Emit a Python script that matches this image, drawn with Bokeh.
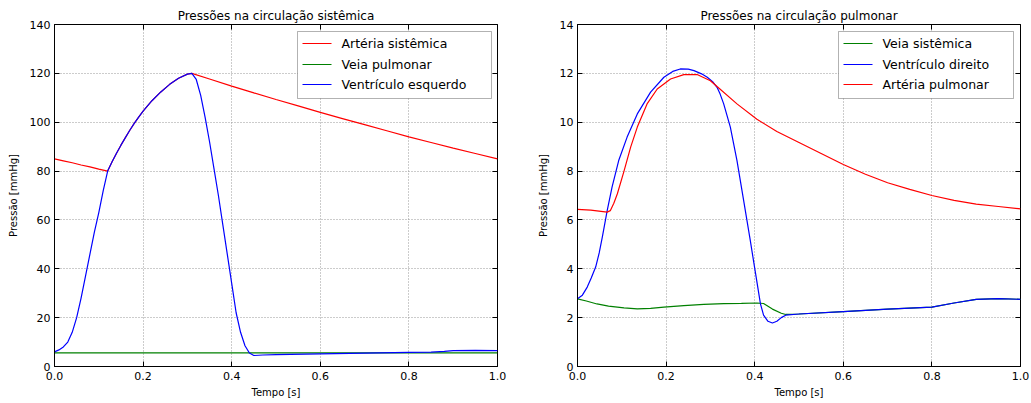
from bokeh.plotting import figure
from bokeh.layouts import row
from bokeh.models import (FixedTicker, PrintfTickFormatter, LinearAxis, CustomJSTickFormatter, Title,
                          BoxAnnotation, Arrow, Label)
from bokeh.embed import file_html
from bokeh.resources import INLINE

# ---------------- data ----------------
# Systemic circulation
t_art_sis = [0, 0.02, 0.04, 0.06, 0.08, 0.10, 0.12, 0.13, 0.14, 0.15, 0.16, 0.17, 0.18, 0.19,
             0.20, 0.22, 0.24, 0.26, 0.28, 0.30, 0.31, 0.35, 0.40, 0.45, 0.50, 0.55, 0.60,
             0.65, 0.70, 0.75, 0.80, 0.85, 0.90, 0.95, 1.0]
p_art_sis = [85, 84.2, 83.4, 82.5, 81.7, 80.8, 80.0, 83.8, 87.3, 90.6, 93.7, 96.7, 99.5, 102.1,
             104.5, 108.8, 112.4, 115.5, 118.0, 119.7, 120.0, 117.7, 114.8, 112, 109.3, 106.7, 104,
             101.5, 99, 96.5, 94, 91.7, 89.4, 87.2, 85]

t_veia_pul = [0, 0.2, 0.4, 0.6, 0.8, 1.0]
p_veia_pul = [5.6, 5.6, 5.6, 5.6, 5.6, 5.6]

t_vent_esq = [0, 0.01, 0.02, 0.03, 0.04, 0.05, 0.06, 0.07, 0.08, 0.09, 0.10, 0.11, 0.12, 0.13,
              0.14, 0.15, 0.16, 0.17, 0.18, 0.19, 0.20, 0.22, 0.24, 0.26, 0.28, 0.30, 0.31,
              0.32, 0.33, 0.34, 0.35, 0.36, 0.37, 0.38, 0.39, 0.40, 0.41, 0.42, 0.43, 0.44,
              0.45, 0.47, 0.50, 0.60, 0.70, 0.80, 0.85, 0.88, 0.90, 0.95, 1.0]
p_vent_esq = [6, 6.8, 8, 10, 14, 20, 28, 37, 46, 55, 63, 72, 80, 83.8,
              87.3, 90.6, 93.7, 96.7, 99.5, 102.1, 104.5, 108.8, 112.4, 115.5, 118.0, 119.7, 120.0,
              117.5, 111, 102, 92, 81, 70, 58, 46, 34, 22, 14, 8.5, 5.5,
              4.5, 4.7, 4.9, 5.2, 5.5, 5.8, 5.9, 6.2, 6.5, 6.6, 6.5]

# Pulmonary circulation
t_veia_sis = [0, 0.02, 0.044, 0.07, 0.105, 0.135, 0.165, 0.195, 0.24, 0.285, 0.33, 0.37, 0.405,
              0.42, 0.44, 0.46, 0.47, 0.50, 0.60, 0.70, 0.80, 0.85, 0.90, 0.95, 1.0]
p_veia_sis = [2.77, 2.68, 2.56, 2.47, 2.4, 2.36, 2.38, 2.43, 2.49, 2.54, 2.57, 2.58, 2.6,
              2.58, 2.35, 2.18, 2.13, 2.15, 2.25, 2.35, 2.43, 2.6, 2.75, 2.78, 2.75]

t_vent_dir = [0, 0.011, 0.022, 0.031, 0.041, 0.049, 0.056, 0.067, 0.078, 0.093, 0.112, 0.135,
              0.165, 0.195, 0.215, 0.232, 0.25, 0.263, 0.28, 0.293, 0.305, 0.315, 0.322, 0.33,
              0.345, 0.36, 0.375, 0.39, 0.402, 0.413, 0.42, 0.43, 0.44, 0.45, 0.46, 0.47,
              0.50, 0.60, 0.70, 0.80, 0.85, 0.90, 0.95, 1.0]
p_vent_dir = [2.77, 2.92, 3.25, 3.62, 4.07, 4.65, 5.3, 6.38, 7.34, 8.43, 9.39, 10.34,
              11.23, 11.84, 12.08, 12.18, 12.17, 12.11, 11.98, 11.84, 11.66, 11.43, 11.15, 10.75,
              9.8, 8.43, 6.8, 5.16, 3.8, 2.56, 2.1, 1.85, 1.78, 1.85, 2.0, 2.1,
              2.15, 2.25, 2.35, 2.43, 2.6, 2.75, 2.78, 2.75]

t_art_pul = [0, 0.03, 0.067, 0.074, 0.082, 0.09, 0.105, 0.12, 0.135, 0.157, 0.18, 0.21, 0.24,
             0.27, 0.30, 0.315, 0.36, 0.405, 0.45, 0.50, 0.55, 0.60, 0.65, 0.70, 0.75,
             0.80, 0.85, 0.90, 0.95, 1.0]
p_art_pul = [6.43, 6.4, 6.32, 6.38, 6.68, 7.07, 8.0, 8.98, 9.8, 10.75, 11.36, 11.77, 11.95,
             11.95, 11.7, 11.46, 10.75, 10.12, 9.62, 9.17, 8.72, 8.27, 7.87, 7.52, 7.25,
             7.0, 6.8, 6.65, 6.55, 6.45]

x_ticks = [0, 0.2, 0.4, 0.6, 0.8, 1.0]
y_ticks_sis = [0, 20, 40, 60, 80, 100, 120, 140]
y_ticks_pul = [0, 2, 4, 6, 8, 10, 12, 14]

FONT = "DejaVu Sans"
RED, GREEN, BLUE = "#ff0000", "#008000", "#0000ff"

# legend layout (screen px from the frame's bottom-left corner)
ROW_SY = [323, 302, 282]


def make_fig(title, ymax, yticks, series, width, bl, br, leg_left, leg_right):
    p = figure(width=width, height=403, x_range=(0, 1), y_range=(0, ymax),
               output_backend="svg", toolbar_location=None,
               min_border_left=bl, min_border_right=br, min_border_top=24, min_border_bottom=37)
    p.title = Title(text=title, align="center", text_font=FONT, text_font_size="12px",
                    text_font_style="normal", text_color="#000000", standoff=3)
    p.outline_line_color = "#000000"
    p.outline_line_width = 1
    p.background_fill_color = "white"
    p.border_fill_color = "white"

    p.xaxis.ticker = FixedTicker(ticks=x_ticks)
    p.yaxis.ticker = FixedTicker(ticks=yticks)
    p.xaxis.formatter = PrintfTickFormatter(format="%.1f")
    for ax in (p.xaxis[0], p.yaxis[0]):
        ax.major_tick_in = 5
        ax.major_tick_out = 0
        ax.minor_tick_line_color = None
        ax.axis_line_color = "#000000"
        ax.major_label_text_font = FONT
        ax.major_label_text_font_size = "11px"
        ax.major_label_text_color = "#000000"
        ax.axis_label_text_font = FONT
        ax.axis_label_text_font_size = "10px"
        ax.axis_label_text_font_style = "normal"
        ax.axis_label_text_color = "#000000"
    p.xaxis.major_label_standoff = 5
    p.yaxis.major_label_standoff = 4
    p.xaxis.axis_label = "Tempo [s]"
    p.yaxis.axis_label = "Pressão [mmHg]"
    p.xaxis.axis_label_standoff = 4
    p.yaxis.axis_label_standoff = 8

    # ticks on top / right without labels (classic style)
    blank = CustomJSTickFormatter(code="return ''")
    top = LinearAxis(ticker=FixedTicker(ticks=x_ticks), formatter=blank,
                     major_tick_in=5, major_tick_out=0, minor_tick_line_color=None,
                     axis_line_color=None, major_label_standoff=0)
    right = LinearAxis(ticker=FixedTicker(ticks=yticks), formatter=blank,
                       major_tick_in=5, major_tick_out=0, minor_tick_line_color=None,
                       axis_line_color=None, major_label_standoff=0)
    p.add_layout(top, "above")
    p.add_layout(right, "right")

    p.grid.grid_line_color = "#999999"
    p.grid.grid_line_dash = "1 2"
    p.grid.grid_line_width = 1
    p.xgrid.ticker = FixedTicker(ticks=x_ticks)
    p.ygrid.ticker = FixedTicker(ticks=yticks)

    for label, t, v, c in series:
        p.line(x=t, y=v, line_color=c, line_width=1.2)

    # legend box (classic style: square corners, black frame)
    p.add_layout(BoxAnnotation(left=leg_left, right=leg_right, top=335, bottom=268,
                               left_units="screen", right_units="screen",
                               top_units="screen", bottom_units="screen",
                               fill_color="white", fill_alpha=1,
                               line_color="#000000", line_width=1))
    for (label, t, v, c), sy in zip(series, ROW_SY):
        p.add_layout(Arrow(x_start=leg_left + 5, x_end=leg_left + 34, y_start=sy, y_end=sy,
                           start_units="screen", end_units="screen", end=None,
                           line_color=c, line_width=1.2))
        p.add_layout(Label(x=leg_left + 44, y=sy, x_units="screen", y_units="screen",
                           text=label, text_font=FONT, text_font_size="12.5px",
                           text_color="#000000", text_baseline="middle", text_align="left"))
    return p


p1 = make_fig("Pressões na circulação sistêmica", 140, y_ticks_sis, [
    ("Artéria sistêmica", t_art_sis, p_art_sis, RED),
    ("Veia pulmonar", t_veia_pul, p_veia_pul, GREEN),
    ("Ventrículo esquerdo", t_vent_esq, p_vent_esq, BLUE),
], 515, 54, 18, 243, 437)

p2 = make_fig("Pressões na circulação pulmonar", 14, y_ticks_pul, [
    ("Veia sistêmica", t_veia_sis, p_veia_sis, GREEN),
    ("Ventrículo direito", t_vent_dir, p_vent_dir, BLUE),
    ("Artéria pulmonar", t_art_pul, p_art_pul, RED),
], 516, 62, 11, 261, 436)

layout = row(p1, p2)
open("out.html", "w").write(file_html(layout, INLINE))
